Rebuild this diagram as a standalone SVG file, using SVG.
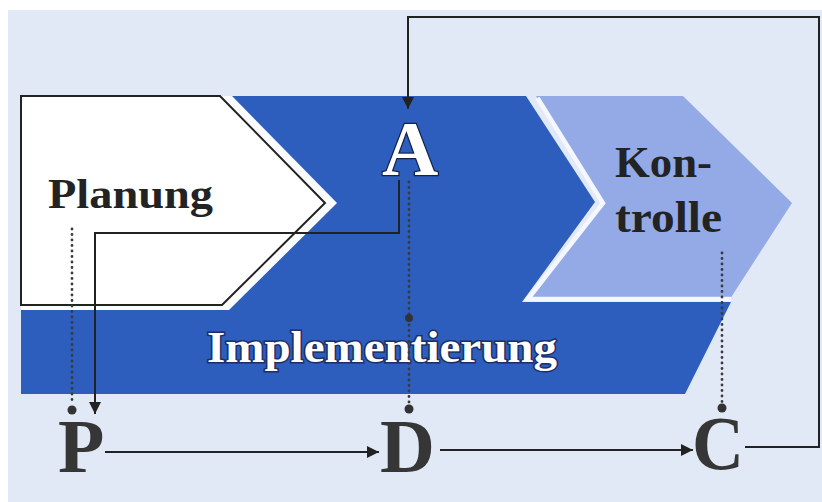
<svg xmlns="http://www.w3.org/2000/svg" width="822" height="502" viewBox="0 0 822 502">
  <style>
    .serif { font-family: "Liberation Serif", "Times New Roman", serif; font-weight: bold; }
    .dark { fill: #232323; }
    .letter { fill: #363636; font-size: 76px; }
    .conn { fill: none; stroke: #222; stroke-width: 2; }
    .dots { fill: none; stroke: #3a3a3a; stroke-width: 2.8; stroke-linecap: round; stroke-dasharray: 0 5.5; }
    .pin { fill: #333; }
  </style>
  <defs>
    <marker id="arrow" markerUnits="userSpaceOnUse" markerWidth="12" markerHeight="12" refX="12" refY="6" orient="auto">
      <path d="M0,0 L12,6 L0,12 z" fill="#222"/>
    </marker>
  </defs>

  <!-- page -->
  <rect x="0" y="0" width="822" height="502" fill="#ffffff"/>
  <rect x="8" y="10" width="814" height="492" fill="#e2e9f6"/>

  <!-- dark blue chevron with the implementation band -->
  <g id="implementierung">
    <polygon points="225,96 526,96 595,202 522,302 731,302 685,394 21,394 21,300" fill="#2d5ebe"/>
    <text class="serif" x="207" y="362" font-size="44" textLength="350" lengthAdjust="spacingAndGlyphs" fill="#ffffff" stroke="#1b2f66" stroke-width="3" paint-order="stroke">Implementierung</text>
  </g>

  <!-- light chevron, white seam only towards the dark shape -->
  <g id="kontrolle">
    <polygon points="536,96 683,96 792,203 730,299 528,299 603,203" fill="#94aae6"/>
    <polyline points="537.5,98 603,203 528,299 731,299" fill="none" stroke="#f4f7fd" stroke-width="4.5" stroke-linejoin="miter"/>
    <text class="serif dark" x="615" y="177" font-size="44" textLength="97" lengthAdjust="spacingAndGlyphs">Kon-</text>
    <text class="serif dark" x="615" y="232" font-size="44" textLength="107" lengthAdjust="spacingAndGlyphs">trolle</text>
  </g>

  <!-- white planning pentagon with its halo -->
  <g id="planung">
    <polygon points="21,96 232,96 337,203 229,310 21,310" fill="#fbfcfe"/>
    <polygon points="21,96 220,96 325,203 222,305 21,305" fill="#ffffff" stroke="#222" stroke-width="2"/>
    <text class="serif dark" x="48" y="208" font-size="42" textLength="165" lengthAdjust="spacingAndGlyphs">Planung</text>
  </g>

  <!-- act label -->
  <g id="A">
    <text class="serif" x="382" y="175" font-size="78" fill="#ffffff" stroke="#14224a" stroke-width="2.5" paint-order="stroke">A</text>
  </g>

  <!-- PDCA letters -->
  <g id="P"><text class="serif letter" x="58" y="472">P</text></g>
  <g id="D"><text class="serif letter" x="380" y="472">D</text></g>
  <g id="C"><text class="serif letter" x="692" y="469" textLength="52" lengthAdjust="spacingAndGlyphs">C</text></g>

  <!-- connectors -->
  <g id="connectors">
    <path class="dots" d="M72,229 V403"/>
    <path class="dots" d="M409,182 V403"/>
    <path class="dots" d="M722,253 V402"/>
    <circle class="pin" cx="72" cy="410" r="4.5"/>
    <circle class="pin" cx="409" cy="409" r="4.5"/>
    <circle class="pin" cx="409" cy="318" r="4"/>
    <circle class="pin" cx="722" cy="408" r="4.5"/>

    <path class="conn" d="M745,447 H819 V17 H408 V109" marker-end="url(#arrow)"/>
    <path class="conn" d="M399,180 V233 H95 V414" marker-end="url(#arrow)"/>
    <path class="conn" d="M105,452 H379" marker-end="url(#arrow)"/>
    <path class="conn" d="M440,450 H693" marker-end="url(#arrow)"/>
  </g>
</svg>
